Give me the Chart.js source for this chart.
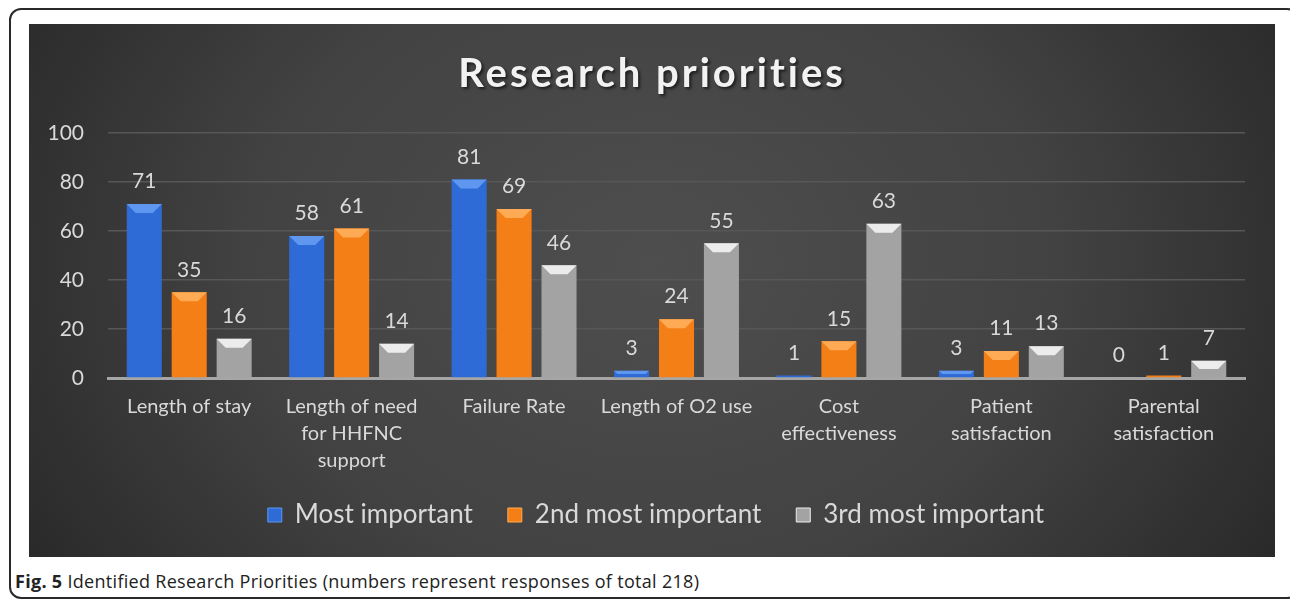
<!DOCTYPE html>
<html>
<head>
<meta charset="utf-8">
<script src="https://cdn.jsdelivr.net/npm/chart.js@4/dist/chart.umd.min.js"></script>
<style>
  body { margin: 0; background: #fff; width: 1290px; height: 601px; overflow: hidden; position: relative; }
  #frame { position: absolute; left: 9px; top: 8px; width: 1290px; height: 591px; border: 2px solid #2a2a2a; border-radius: 12px; box-sizing: border-box; }
  #panel { position: absolute; left: 29px; top: 24px; width: 1246px; height: 533px;
    background: radial-gradient(ellipse 65% 120% at 50% 45%, #4e4e4e 0%, #424242 50%, #232323 100%); }
  #caption { position: absolute; left: 15px; top: 569px; font-family: "Open Sans", sans-serif; font-size: 18px; letter-spacing: 0.3px; color: #222; }
  #caption b { font-weight: 700; }
</style>
</head>
<body>
<div id="frame"></div>
<div id="panel"><canvas id="chart" width="1246" height="533"></canvas></div>
<div id="caption"><b>Fig. 5</b> Identified Research Priorities (numbers represent responses of total 218)</div>
<script>
// categories and values
var categories = [
  "Length of stay",
  ["Length of need", "for HHFNC", "support"],
  "Failure Rate",
  "Length of O2 use",
  ["Cost", "effectiveness"],
  ["Patient", "satisfaction"],
  ["Parental", "satisfaction"]
];
var seriesNames = ["Most important", "2nd most important", "3rd most important"];
var mostImportant = [71, 58, 81, 3, 1, 3, 0];
var secondImportant = [35, 61, 69, 24, 15, 11, 1];
var thirdImportant = [16, 14, 46, 55, 63, 13, 7];
var yTicks = [0, 20, 40, 60, 80, 100];
var chartTitle = "Research priorities";

var FONT = "Lato, sans-serif";
var TEXT = "#d9d9d9";

// colours per series: [light, main, dark, bevel]
var palette = [
  ["#4a86ea", "#2f6bd6", "#1d4ba6", "#5f97f0"],
  ["#ff9a3c", "#f57f17", "#c45f08", "#ffab55"],
  ["#c4c4c4", "#a3a3a3", "#7a7a7a", "#ececec"]
];

function barFill(i) {
  return function(ctx) {
    var el = ctx.element;
    if (!el || !isFinite(el.x) || !isFinite(el.width)) return palette[i][1];
    var c = ctx.chart.ctx;
    var half = el.width / 2;
    var g = c.createLinearGradient(el.x - half, 0, el.x + half, 0);
    g.addColorStop(0, palette[i][2]);
    g.addColorStop(0.12, palette[i][1]);
    g.addColorStop(0.85, palette[i][1]);
    g.addColorStop(1, palette[i][2]);
    return g;
  };
}

// top bevel of each bar
var bevelPlugin = {
  id: "bevel",
  afterDatasetsDraw: function(chart) {
    var c = chart.ctx;
    chart.data.datasets.forEach(function(ds, i) {
      var meta = chart.getDatasetMeta(i);
      meta.data.forEach(function(bar) {
        var h = bar.base - bar.y;
        if (h < 2) return;
        var half = bar.width / 2;
        var b = Math.min(9, h / 2, half);
        c.save();
        c.fillStyle = palette[i][3];
        c.beginPath();
        c.moveTo(bar.x - half, bar.y);
        c.lineTo(bar.x + half, bar.y);
        c.lineTo(bar.x + half - b, bar.y + b);
        c.lineTo(bar.x - half + b, bar.y + b);
        c.closePath();
        c.fill();
        c.restore();
      });
    });
  }
};

// value labels above bars
var labelPlugin = {
  id: "valueLabels",
  afterDatasetsDraw: function(chart) {
    var c = chart.ctx;
    c.save();
    c.font = "21px " + FONT;
    c.fillStyle = TEXT;
    c.textAlign = "center";
    c.textBaseline = "bottom";
    chart.data.datasets.forEach(function(ds, i) {
      chart.getDatasetMeta(i).data.forEach(function(bar, j) {
        c.fillText(ds.data[j], bar.x, bar.y - 12);
      });
    });
    c.restore();
  }
};

// spaced, shadowed title
var titlePlugin = {
  id: "spacedTitle",
  afterDraw: function(chart) {
    var c = chart.ctx;
    c.save();
    c.font = "bold 40px " + FONT;
    c.letterSpacing = "3px";
    c.fillStyle = "#f2f2f2";
    c.textAlign = "center";
    c.textBaseline = "middle";
    c.shadowColor = "rgba(0,0,0,0.6)";
    c.shadowOffsetX = 2;
    c.shadowOffsetY = 2;
    c.shadowBlur = 3;
    c.fillText(chartTitle, chart.width / 2, 50);
    c.restore();
  }
};

// let the three-line category label extend below the axis box,
// and centre the legend on the whole panel
var layoutTweaks = {
  id: "layoutTweaks",
  afterLayout: function(chart) {
    chart.scales.x.bottom += 30;
    chart.legend.left += 8;
    chart.legend.right += 30;
  }
};

var datasets = [mostImportant, secondImportant, thirdImportant].map(function(vals, i) {
  return {
    label: seriesNames[i],
    data: vals,
    backgroundColor: barFill(i),
    borderWidth: 0,
    barPercentage: 0.78,
    categoryPercentage: 0.83
  };
});

new Chart(document.getElementById("chart"), {
  type: "bar",
  data: { labels: categories, datasets: datasets },
  plugins: [bevelPlugin, labelPlugin, titlePlugin, layoutTweaks],
  options: {
    responsive: false,
    animation: false,
    layout: { padding: { left: 0, right: 30, top: 109, bottom: 29 } },
    plugins: {
      tooltip: { enabled: false },
      title: { display: false },
      legend: {
        position: "bottom",
        maxHeight: 61,
        labels: {
          color: TEXT,
          font: { family: FONT, size: 26 },
          usePointStyle: true,
          pointStyle: "rect",
          boxWidth: 14,
          boxHeight: 14,
          padding: 35,
          generateLabels: function(chart) {
            return seriesNames.map(function(n, i) {
              return { text: n, fillStyle: palette[i][1], strokeStyle: palette[i][3], lineWidth: 1,
                       pointStyle: "rect", fontColor: TEXT, datasetIndex: i };
            });
          }
        }
      }
    },
    scales: {
      x: {
        grid: { display: false },
        border: { display: true, color: "#a6a6a6", width: 3 },
        ticks: { color: TEXT, font: { family: FONT, size: 20, lineHeight: 1.35 }, maxRotation: 0, padding: 7 },
        afterFit: function(s) { s.height = 89; }
      },
      y: {
        min: 0,
        max: 100,
        afterBuildTicks: function(s) { s.ticks = yTicks.map(function(v) { return { value: v }; }); },
        grid: { color: "#575757", lineWidth: 1.5, drawTicks: false },
        border: { display: false },
        ticks: { color: TEXT, font: { family: FONT, size: 21 }, padding: 24 },
        afterFit: function(s) { s.width = 79; }
      }
    }
  }
});
</script>
</body>
</html>
